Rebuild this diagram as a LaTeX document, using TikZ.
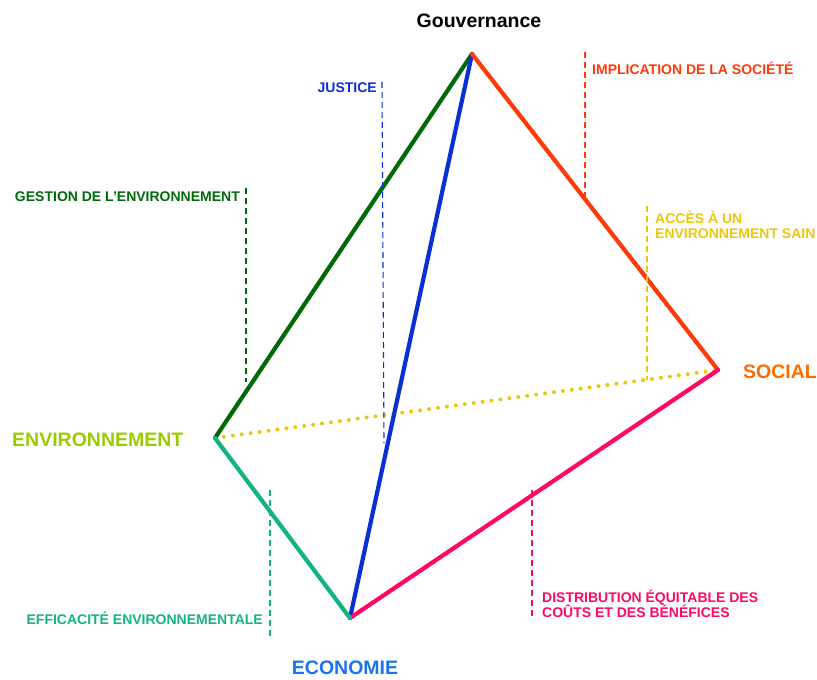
\documentclass[tikz,border=0pt]{standalone}
\usepackage{fontspec}
\setmainfont{Liberation Sans}
\usepackage{xcolor}
\usepackage{tikz}
\usetikzlibrary{positioning}
\definecolor{govblack}{HTML}{000000}
\definecolor{envdark}{HTML}{006A0A}
\definecolor{justblue}{HTML}{0A2FD2}
\definecolor{socred}{HTML}{FF3A0A}
\definecolor{ecopink}{HTML}{FF0866}
\definecolor{effteal}{HTML}{12B384}
\definecolor{accyellow}{HTML}{EDC60E}
\definecolor{socorange}{HTML}{FF6A00}
\definecolor{envlime}{HTML}{99CC00}
\definecolor{ecoblue}{HTML}{1A74F0}
\tikzset{
  edge/.style={line width=4.2pt, line cap=round},
  leader/.style={line width=1.1pt, dash pattern=on 6pt off 4pt},
  pole/.style={font=\fontsize{19.5}{22}\selectfont\bfseries, inner sep=0pt},
  theme/.style={font=\fontsize{14}{15.5}\selectfont\bfseries, inner sep=0pt, align=left}
}
\begin{document}
\begin{tikzpicture}[x=1pt, y=-1pt]
  \useasboundingbox (0,0) rectangle (817,680);
  % sommets
  \coordinate (gov) at (472,54);
  \coordinate (soc) at (718,370);
  \coordinate (env) at (215,438);
  \coordinate (eco) at (350,618);
  % aretes
  \draw[accyellow, line width=4pt, dash pattern=on 0pt off 9pt, line cap=round] (env)--(soc);
  \draw[edge, envdark] (env)--(gov);
  \draw[edge, justblue] (eco)--(gov);
  \draw[edge, socred] (gov)--(soc);
  \draw[edge, ecopink] (soc)--(eco);
  \draw[edge, effteal] (env)--(eco);
  % poles
  \node[pole, govblack] (govlbl) at (479,21) {Gouvernance};
  \node[pole, socorange, anchor=west] (soclbl) at (743,372) {SOCIAL};
  \node[pole, envlime, anchor=west] (envlbl) at (12,440) {ENVIRONNEMENT};
  \node[pole, ecoblue] (ecolbl) at (345,668) {ECONOMIE};
  % themes
  \node[theme, justblue, anchor=east] (justlbl) at (377,88) {JUSTICE};
  \node[theme, envdark, anchor=east] (gestlbl) at (240,197) {GESTION DE L'ENVIRONNEMENT};
  \node[theme, socred, anchor=west] (impllbl) at (592,68) {IMPLICATION DE LA SOCIÉTÉ};
  \node[theme, accyellow, anchor=west] (acclbl) at (655,225) {ACCÈS À UN\\ENVIRONNEMENT SAIN};
  \node[theme, ecopink, anchor=west] (distlbl) at (542,604) {DISTRIBUTION ÉQUITABLE DES\\COÛTS ET DES BÉNÉFICES};
  \node[theme, effteal, anchor=east] (efflbl) at (263,618) {EFFICACITÉ ENVIRONNEMENTALE};
  % traits de rappel
  \coordinate (justtop) at (382,82);   \coordinate (justbot) at (384,443);
  \coordinate (gesttop) at (246,188);  \coordinate (gestbot) at (246,382);
  \coordinate (impltop) at (585,52);   \coordinate (implbot) at (585,197);
  \coordinate (acctop) at (647,206);   \coordinate (accbot) at (647,380);
  \coordinate (disttop) at (532,490);  \coordinate (distbot) at (532,620);
  \coordinate (efftop) at (270,490);   \coordinate (effbot) at (270,638);
  \draw[leader, justblue] (justtop)--(justbot);
  \draw[leader, envdark] (gesttop)--(gestbot);
  \draw[leader, socred] (impltop)--(implbot);
  \draw[leader, accyellow] (acctop)--(accbot);
  \draw[leader, ecopink] (disttop)--(distbot);
  \draw[leader, effteal] (efftop)--(effbot);
\end{tikzpicture}
\end{document}
